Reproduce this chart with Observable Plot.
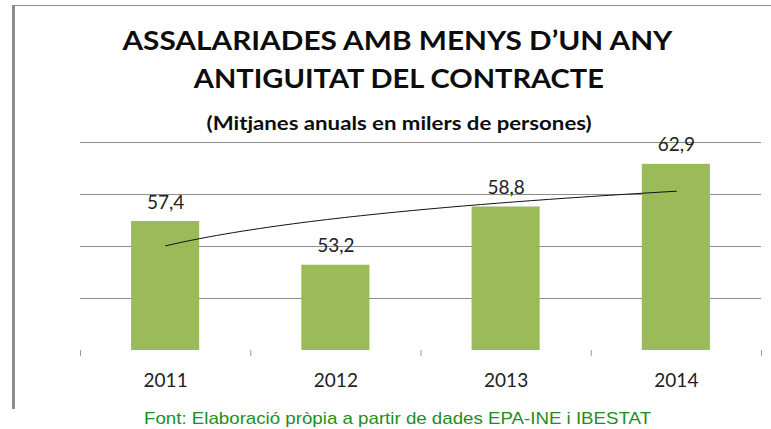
<!DOCTYPE html>
<html><head><meta charset="utf-8">
<script src="https://cdn.jsdelivr.net/npm/d3@7"></script>
<script src="https://cdn.jsdelivr.net/npm/@observablehq/plot@0.6"></script>
<style>
body{margin:0;background:#fff;}
#wrap{position:relative;width:771px;height:429px;overflow:hidden;background:#fff;}
.t{position:absolute;width:771px;text-align:center;white-space:nowrap;}
.t span{display:inline-block;transform-origin:50% 50%;}
#title1,#title2{font-family:Lato,sans-serif;font-weight:700;font-size:27px;line-height:27px;color:#0d0d0d;}
#sub{font-family:Lato,sans-serif;font-weight:700;font-size:18px;line-height:18px;color:#0d0d0d;}
#cap{font-family:"Liberation Sans",Arial,sans-serif;font-size:17px;line-height:17px;color:#1c8f1c;}
</style></head><body>
<div id="wrap">
  <div id="chart" style="position:absolute;left:0;top:0"></div>
  <div style="position:absolute;left:13px;top:5px;width:758px;height:1px;background:#8c8c8c"></div>
  <div style="position:absolute;left:12px;top:5px;width:3px;height:404px;background:#8c8c8c"></div>
  <div class="t" id="title1" style="left:12px;top:26px"><span data-w="550">ASSALARIADES AMB MENYS D’UN ANY</span></div>
  <div class="t" id="title2" style="left:13px;top:64px"><span data-w="410">ANTIGUITAT DEL CONTRACTE</span></div>
  <div class="t" id="sub" style="left:14px;top:114px"><span data-w="385">(Mitjanes anuals en milers de persones)</span></div>
  <div class="t" id="cap" style="left:12px;top:410px"><span data-w="507">Font: Elaboració pròpia a partir de dades EPA-INE i IBESTAT</span></div>
</div>
<script>
// ---- data ----
const years = ["2011", "2012", "2013", "2014"];
const values = [57.4, 53.2, 58.8, 62.9];
const valueLabels = ["57,4", "53,2", "58,8", "62,9"];
const gridValues = [50, 55, 60, 65];
const yDomain = [45, 65];

const data = years.map((y, i) => ({pos: i + 1, year: y, value: values[i], label: valueLabels[i]}));

// logarithmic trend line (least squares on ln(x)), derived from the data
const lx = data.map(d => Math.log(d.pos));
const mx = d3.mean(lx), my = d3.mean(values);
const b = d3.sum(lx, (v, i) => (v - mx) * (values[i] - my)) / d3.sum(lx, v => (v - mx) ** 2);
const a = my - b * mx;
const trend = d3.range(1, 4.0001, 0.05).map(x => ({x, y: a + b * Math.log(x)}));

const chart = Plot.plot({
  width: 771,
  height: 429,
  marginTop: 142,
  marginBottom: 79,
  marginLeft: 80,
  marginRight: 10,
  x: {domain: [0.5, 4.5]},
  y: {domain: yDomain, axis: null},
  style: {fontFamily: "Lato, sans-serif", fontSize: "19px", color: "#222", background: "transparent"},
  marks: [
    Plot.ruleY(gridValues, {stroke: "#8c8c8c", strokeWidth: 1, strokeOpacity: 1}),
    Plot.rectY(data, {x1: d => d.pos - 0.2, x2: d => d.pos + 0.2, y1: yDomain[0], y2: "value", fill: "#9BBB59"}),
    Plot.line(trend, {x: "x", y: "y", stroke: "#111", strokeWidth: 1}),
    Plot.text(data, {x: "pos", y: "value", text: "label", dy: -13, lineAnchor: "bottom", fill: "#222", fontSize: 19}),
    Plot.axisX([0.5, 1.5, 2.5, 3.5, 4.5], {tickSize: 6, tickFormat: () => "", stroke: "#9a9a9a", strokeOpacity: 1}),
    Plot.axisX([1, 2, 3, 4], {tickSize: 0, tickPadding: 23, tickFormat: i => years[i - 1], fontSize: 19, fill: "#222"})
  ]
});
document.getElementById("chart").appendChild(chart);

function fit() {
  document.querySelectorAll(".t span").forEach(s => {
    s.style.transform = "none";
    const w = +s.dataset.w;
    const actual = s.getBoundingClientRect().width;
    if (actual > 0) s.style.transform = `scaleX(${w / actual})`;
  });
}
fit();
if (document.fonts && document.fonts.ready) document.fonts.ready.then(fit);
</script>
</body></html>
